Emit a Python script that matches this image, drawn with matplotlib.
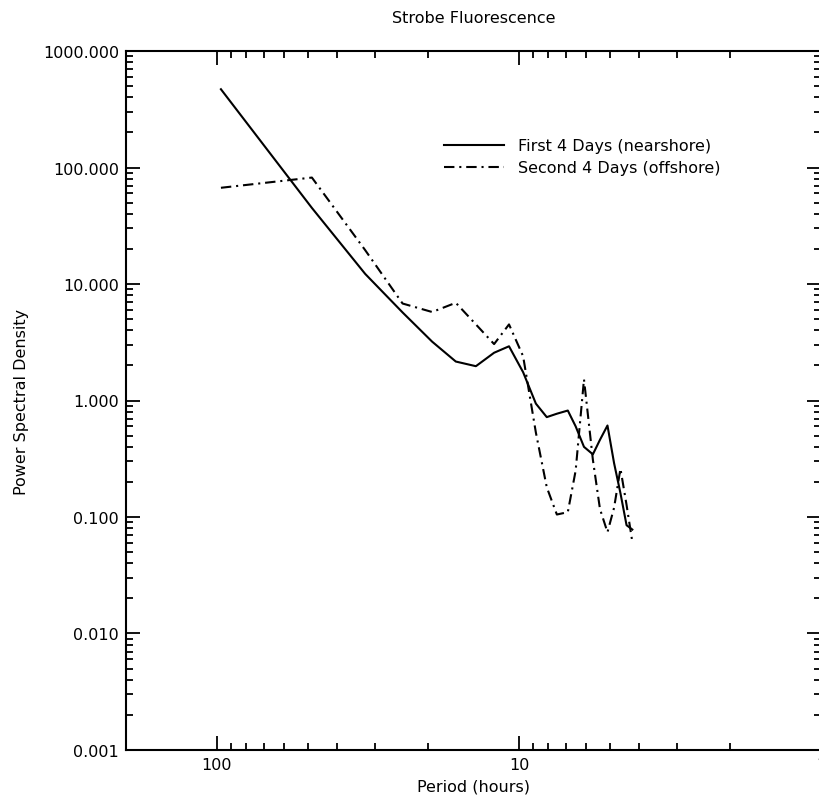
import matplotlib
matplotlib.use("Agg")
import matplotlib.pyplot as plt
import matplotlib.ticker as mticker

# spectral periods (hours)
period = [97.0, 48.5, 32.3, 24.3, 19.4, 16.2, 13.9, 12.1, 10.8, 9.7, 8.8, 8.1,
          7.5, 6.9, 6.5, 6.1, 5.7, 5.4, 5.1, 4.85, 4.62, 4.41, 4.22]

# First 4 days (nearshore)
psd_first = [470, 45, 12.2, 5.7, 3.2, 2.16, 1.97, 2.57, 2.92, 1.75, 0.94, 0.72,
             0.77, 0.82, 0.60, 0.40, 0.345, 0.46, 0.61, 0.29, 0.16, 0.085, 0.078]

# Second 4 days (offshore)
psd_second = [67, 82, 19.5, 6.8, 5.75, 6.9, 4.5, 3.05, 4.5, 2.4, 0.53, 0.18,
              0.105, 0.11, 0.25, 1.52, 0.31, 0.117, 0.074, 0.12, 0.26, 0.127, 0.061]

labels = ["First 4 Days (nearshore)", "Second 4 Days (offshore)"]

plt.rcParams['font.family'] = ['DejaVu Sans']
plt.rcParams['lines.scale_dashes'] = False

fig = plt.figure(figsize=(8.19, 8.03), dpi=100)
ax = fig.add_axes([0.1538, 0.0648, 0.849, 0.8704])

ax.plot(period, psd_first, color='k', lw=1.5, ls='-', label=labels[0])
ax.plot(period, psd_second, color='k', lw=1.5, ls=(0, (7.5, 3.5, 1.5, 3.5)),
        label=labels[1])

ax.set_xscale('log')
ax.set_yscale('log')
ax.set_xlim(200, 1)
ax.set_ylim(0.001, 1000)

ax.xaxis.set_major_locator(mticker.LogLocator(base=10, numticks=10))
ax.xaxis.set_minor_locator(mticker.LogLocator(base=10, subs=range(2, 10), numticks=20))
ax.xaxis.set_major_formatter(mticker.FuncFormatter(lambda v, p: "%d" % round(v)))
ax.xaxis.set_minor_formatter(mticker.NullFormatter())
ax.yaxis.set_major_locator(mticker.LogLocator(base=10, numticks=10))
ax.yaxis.set_minor_locator(mticker.LogLocator(base=10, subs=range(2, 10), numticks=20))
ax.yaxis.set_major_formatter(mticker.FormatStrFormatter("%.3f"))
ax.yaxis.set_minor_formatter(mticker.NullFormatter())

ax.tick_params(which='both', direction='in', top=True, right=True,
               labelsize=11.5, width=1.3, pad=5)
ax.tick_params(which='major', length=10)
ax.tick_params(which='minor', length=5)
for s in ax.spines.values():
    s.set_linewidth(1.5)

ax.set_title("Strobe Fluorescence", fontsize=11.5, pad=21)
ax.set_xlabel("Period (hours)", fontsize=11.5, labelpad=5)
ax.set_ylabel("Power Spectral Density", fontsize=11.5, labelpad=10)

ax.legend(loc='upper left', bbox_to_anchor=(0.457, 0.875), frameon=False,
          fontsize=11.5, handlelength=3.75, handletextpad=0.87,
          labelspacing=0.43, borderpad=0, borderaxespad=0)

fig.savefig("out.png", dpi=100)
